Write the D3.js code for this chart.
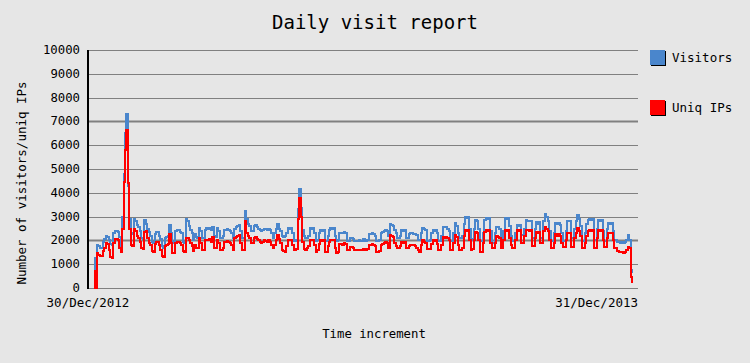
<!DOCTYPE html>
<html>
<head>
<meta charset="utf-8">
<script src="https://cdn.jsdelivr.net/npm/d3@7"></script>
<style>
    body { margin: 0; background: #e6e6e6; }
    svg text { font-family: "DejaVu Sans Mono", monospace; fill: #000; }
</style>
</head>
<body>
<script>
(function() {

    // first day of data (daily values)
    var startDate = new Date(2013, 0, 1);

    var visitors = [
        1250, 650, 1810, 1780, 1700, 1700, 1950, 2050, 2200, 2150,
        2000, 1850, 1800, 2300, 2400, 2400, 2350, 2150, 1700, 3000,
        4800, 6500, 7300, 4300, 2900, 2300, 2250, 2900, 2800, 2650,
        2550, 2400, 2100, 2050, 2850, 2700, 2500, 2350, 2200, 1950,
        1900, 2250, 2370, 2350, 2200, 2050, 1750, 1700, 2100, 2150,
        2200, 2650, 2300, 1950, 1900, 2400, 2450, 2450, 2350, 2300,
        1950, 1900, 2900, 2800, 2600, 2450, 2300, 2000, 2250, 2150,
        2100, 2525, 2400, 2100, 2100, 2450, 2525, 2500, 2525, 2450,
        2580, 2180, 2150, 2525, 2400, 2100, 2100, 2200, 2450, 2450,
        2480, 2450, 2400, 2300, 2100, 2500, 2550, 2600, 2650, 2400,
        2100, 2100, 3230, 2900, 2700, 2600, 2380, 2400, 2600, 2650,
        2550, 2500, 2450, 2380, 2450, 2500, 2480, 2450, 2500, 2450,
        2300, 2100, 2300, 2500, 2670, 2500, 2400, 2180, 2150, 2180,
        2300, 2525, 2500, 2525, 2300, 1960, 1960, 2000, 3300, 4140,
        3370, 2450, 2200, 2090, 2090, 2200, 2525, 2500, 2525, 2300,
        1960, 2000, 2300, 2450, 2400, 2450, 1960, 1960, 2200, 2450,
        2525, 2500, 2525, 2200, 1960, 2000, 2300, 2330, 2300, 2350,
        2300, 1960, 1960, 2090, 2090, 2050, 1990, 1990, 1960, 2000,
        1990, 1990, 2050, 1990, 1960, 2000, 2250, 2260, 2300, 2260,
        2200, 1960, 1960, 2000, 2300, 2350, 2400, 2450, 2400, 2200,
        2670, 2650, 2600, 2450, 2300, 2090, 2090, 2200, 2450, 2400,
        2450, 2090, 2100, 2250, 2300, 2300, 2280, 2250, 2230, 2020,
        2020, 2300, 2525, 2500, 2450, 1960, 1960, 2000, 2300, 2450,
        2400, 2450, 2300, 1960, 1960, 2200, 2580, 2550, 2580, 2500,
        2400, 1960, 1960, 2300, 2720, 2600, 2300, 2090, 2090, 2200,
        2700, 3000, 2950, 3000, 2500, 2020, 2050, 2500, 2860, 2800,
        2500, 1960, 1960, 2300, 2850, 2930, 2900, 2930, 2400, 1890,
        1890, 2300, 2580, 2550, 2500, 1960, 1960, 2400, 2930, 2900,
        2930, 2600, 2200, 1960, 1960, 2300, 2650, 2600, 2650, 2230,
        2230, 2500, 2860, 2820, 2800, 2820, 2100, 2100, 2500, 2760,
        2700, 2760, 2090, 2090, 2800, 3100, 3000, 2800, 2400, 1960,
        1960, 2300, 2720, 2700, 2720, 2650, 2300, 1960, 1960, 2400,
        2830, 2800, 2830, 2090, 2090, 2500, 2800, 3070, 2900, 2600,
        1960, 1960, 2300, 2700, 2850, 2900, 2850, 2900, 2020, 2020,
        2500, 2860, 2800, 2860, 2400, 1960, 1960, 2500, 2720, 2700,
        2720, 2400, 2020, 2020, 1950, 1920, 1900, 1920, 1900, 1920,
        2000, 2230, 2000, 760, 650
    ];

    var uniqIPs = [
        700, 0, 1450, 1400, 1350, 1330, 1550, 1700, 1900, 1850,
        1600, 1300, 1270, 1900, 2050, 2050, 2000, 1700, 1500, 2500,
        4450, 5800, 6650, 4400, 2500, 1800, 1750, 2500, 2400, 2200,
        2100, 1950, 1700, 1650, 2350, 2400, 2100, 1900, 1800, 1550,
        1500, 1850, 1950, 1950, 1800, 1600, 1350, 1300, 1750, 1800,
        1850, 2250, 1900, 1450, 1450, 1900, 1950, 1950, 1900, 1800,
        1550, 1500, 2100, 2100, 2000, 1900, 1750, 1550, 1800, 1700,
        1680, 2100, 1900, 1600, 1600, 2000, 2020, 2000, 2050, 1950,
        2160, 1670, 1700, 2020, 1900, 1600, 1600, 1700, 1950, 1950,
        1980, 1950, 1900, 1800, 1600, 2100, 2150, 2200, 2230, 1900,
        1600, 1600, 2800, 2330, 2200, 2100, 1880, 1900, 2100, 2150,
        2050, 2020, 1950, 1880, 1950, 2000, 1980, 1950, 2000, 1950,
        1800, 1670, 1800, 2000, 2230, 2050, 1900, 1600, 1550, 1530,
        1750, 2020, 2000, 2020, 1800, 1600, 1600, 1650, 2900, 3790,
        3000, 1950, 1650, 1600, 1700, 1750, 2020, 2000, 2020, 1800,
        1530, 1600, 1850, 2020, 1980, 2020, 1530, 1530, 1750, 1950,
        2020, 2000, 2020, 1700, 1460, 1500, 1850, 1850, 1800, 1880,
        1850, 1600, 1600, 1740, 1740, 1700, 1600, 1580, 1580, 1600,
        1600, 1600, 1650, 1600, 1580, 1620, 1800, 1810, 1850, 1810,
        1780, 1530, 1530, 1550, 1810, 1850, 1900, 1950, 1900, 1700,
        2230, 2200, 2150, 1880, 1750, 1670, 1670, 1750, 1950, 1900,
        1950, 1670, 1680, 1780, 1810, 1810, 1800, 1750, 1700, 1600,
        1530, 1800, 2000, 1950, 1900, 1650, 1650, 1650, 1850, 2020,
        1980, 2020, 1850, 1600, 1600, 1800, 2160, 2100, 2160, 2100,
        2000, 1600, 1600, 1900, 2230, 2150, 1800, 1600, 1600, 1700,
        2200, 2440, 2400, 2440, 2000, 1600, 1650, 2000, 2370, 2300,
        2000, 1530, 1530, 1900, 2350, 2440, 2400, 2440, 1900, 1670,
        1670, 1900, 2200, 2150, 2100, 1670, 1670, 2000, 2440, 2400,
        2440, 2100, 1800, 1670, 1670, 2000, 2440, 2400, 2440, 1880,
        1880, 2200, 2440, 2440, 2400, 2440, 1780, 1780, 2100, 2370,
        2300, 2370, 1880, 1880, 2400, 2580, 2500, 2400, 2000, 1670,
        1670, 1900, 2260, 2200, 2260, 2200, 1900, 1740, 1740, 2000,
        2300, 2300, 2300, 1740, 1740, 2100, 2300, 2510, 2400, 2200,
        1670, 1670, 1900, 2200, 2400, 2440, 2400, 2440, 1670, 1670,
        2100, 2440, 2400, 2440, 2000, 1740, 1740, 2100, 2300, 2300,
        2300, 2000, 1670, 1670, 1550, 1530, 1500, 1530, 1460, 1530,
        1600, 1740, 1700, 450, 200
    ];

    var yTicks = [0, 1000, 2000, 3000, 4000, 5000, 6000, 7000, 8000, 9000, 10000];
    var xLabels = ["30/Dec/2012", "31/Dec/2013"];
    var seriesNames = ["Visitors", "Uniq IPs"];
    var seriesColors = ["#4a86cc", "#ff0000"];

    window.onload = setChart();

    function setChart() {

        var width = 750,
            height = 363,
            left = 88,
            right = 638,
            top = 50,
            bottom = 288;

        var svg = d3.select("body")
            .append("svg")
            .attr("width", width)
            .attr("height", height);

        svg.append("rect")
            .attr("width", width)
            .attr("height", height)
            .attr("fill", "#e6e6e6");

        var days = visitors.map(function(v, i) {
            return d3.timeDay.offset(startDate, i);
        });

        var xScale = d3.scaleTime()
            .domain([new Date(2012, 11, 30), new Date(2014, 0, 4)])
            .range([91, right]);

        var yScale = d3.scaleLinear()
            .domain([0, 10000])
            .range([bottom, top]);

        // grid lines
        svg.selectAll(".grid")
            .data(yTicks)
            .enter()
            .append("line")
            .attr("class", "grid")
            .attr("x1", left)
            .attr("x2", right)
            .attr("y1", function(d) { return Math.round(yScale(d)) + 0.5; })
            .attr("y2", function(d) { return Math.round(yScale(d)) + 0.5; })
            .attr("stroke", "#808080")
            .attr("stroke-width", function(d) {
                return (d == 2000 || d == 7000) ? 2 : 1;
            });

        // tick labels
        svg.selectAll(".ytick")
            .data(yTicks)
            .enter()
            .append("text")
            .attr("class", "ytick")
            .attr("x", 80)
            .attr("y", function(d) { return yScale(d) + 4; })
            .attr("text-anchor", "end")
            .style("font-size", "12.3px")
            .text(function(d) { return d; });

        var line = d3.line()
            .curve(d3.curveStepAfter)
            .x(function(d, i) { return xScale(days[i]); })
            .y(function(d) { return yScale(d); });

        [visitors, uniqIPs].forEach(function(series, k) {
            svg.append("path")
                .datum(series)
                .attr("fill", "none")
                .attr("stroke", seriesColors[k])
                .attr("stroke-width", 2)
                .attr("shape-rendering", "crispEdges")
                .attr("d", line);
        });

        // left axis
        svg.append("line")
            .attr("x1", left)
            .attr("x2", left)
            .attr("y1", top)
            .attr("y2", bottom + 1)
            .attr("stroke", "#000")
            .attr("stroke-width", 2);

        // x labels: first at the origin, last right-aligned to the end
        svg.append("text")
            .attr("x", left)
            .attr("y", 307)
            .attr("text-anchor", "middle")
            .style("font-size", "12.5px")
            .text(xLabels[0]);

        svg.append("text")
            .attr("x", right)
            .attr("y", 307)
            .attr("text-anchor", "end")
            .style("font-size", "12.5px")
            .text(xLabels[1]);

        svg.append("text")
            .attr("x", 375)
            .attr("y", 29)
            .attr("text-anchor", "middle")
            .style("font-size", "19px")
            .text("Daily visit report");

        svg.append("text")
            .attr("x", 374)
            .attr("y", 338)
            .attr("text-anchor", "middle")
            .style("font-size", "12.3px")
            .text("Time increment");

        svg.append("text")
            .attr("transform", "translate(26,183) rotate(-90)")
            .attr("text-anchor", "middle")
            .style("font-size", "12.5px")
            .text("Number of visitors/uniq IPs");

        // legend
        var legend = svg.selectAll(".legend")
            .data(seriesNames)
            .enter()
            .append("g")
            .attr("class", "legend")
            .attr("transform", function(d, i) {
                return "translate(650," + (50 + i * 50) + ")";
            });

        legend.append("rect")
            .attr("x", 1)
            .attr("y", 1)
            .attr("width", 15)
            .attr("height", 15)
            .attr("fill", "#000");

        legend.append("rect")
            .attr("width", 15)
            .attr("height", 15)
            .attr("fill", function(d, i) { return seriesColors[i]; });

        legend.append("text")
            .attr("x", 22)
            .attr("y", 12)
            .style("font-size", "12.5px")
            .text(function(d) { return d; });

    }; // setChart function

})();
</script>
</body>
</html>
